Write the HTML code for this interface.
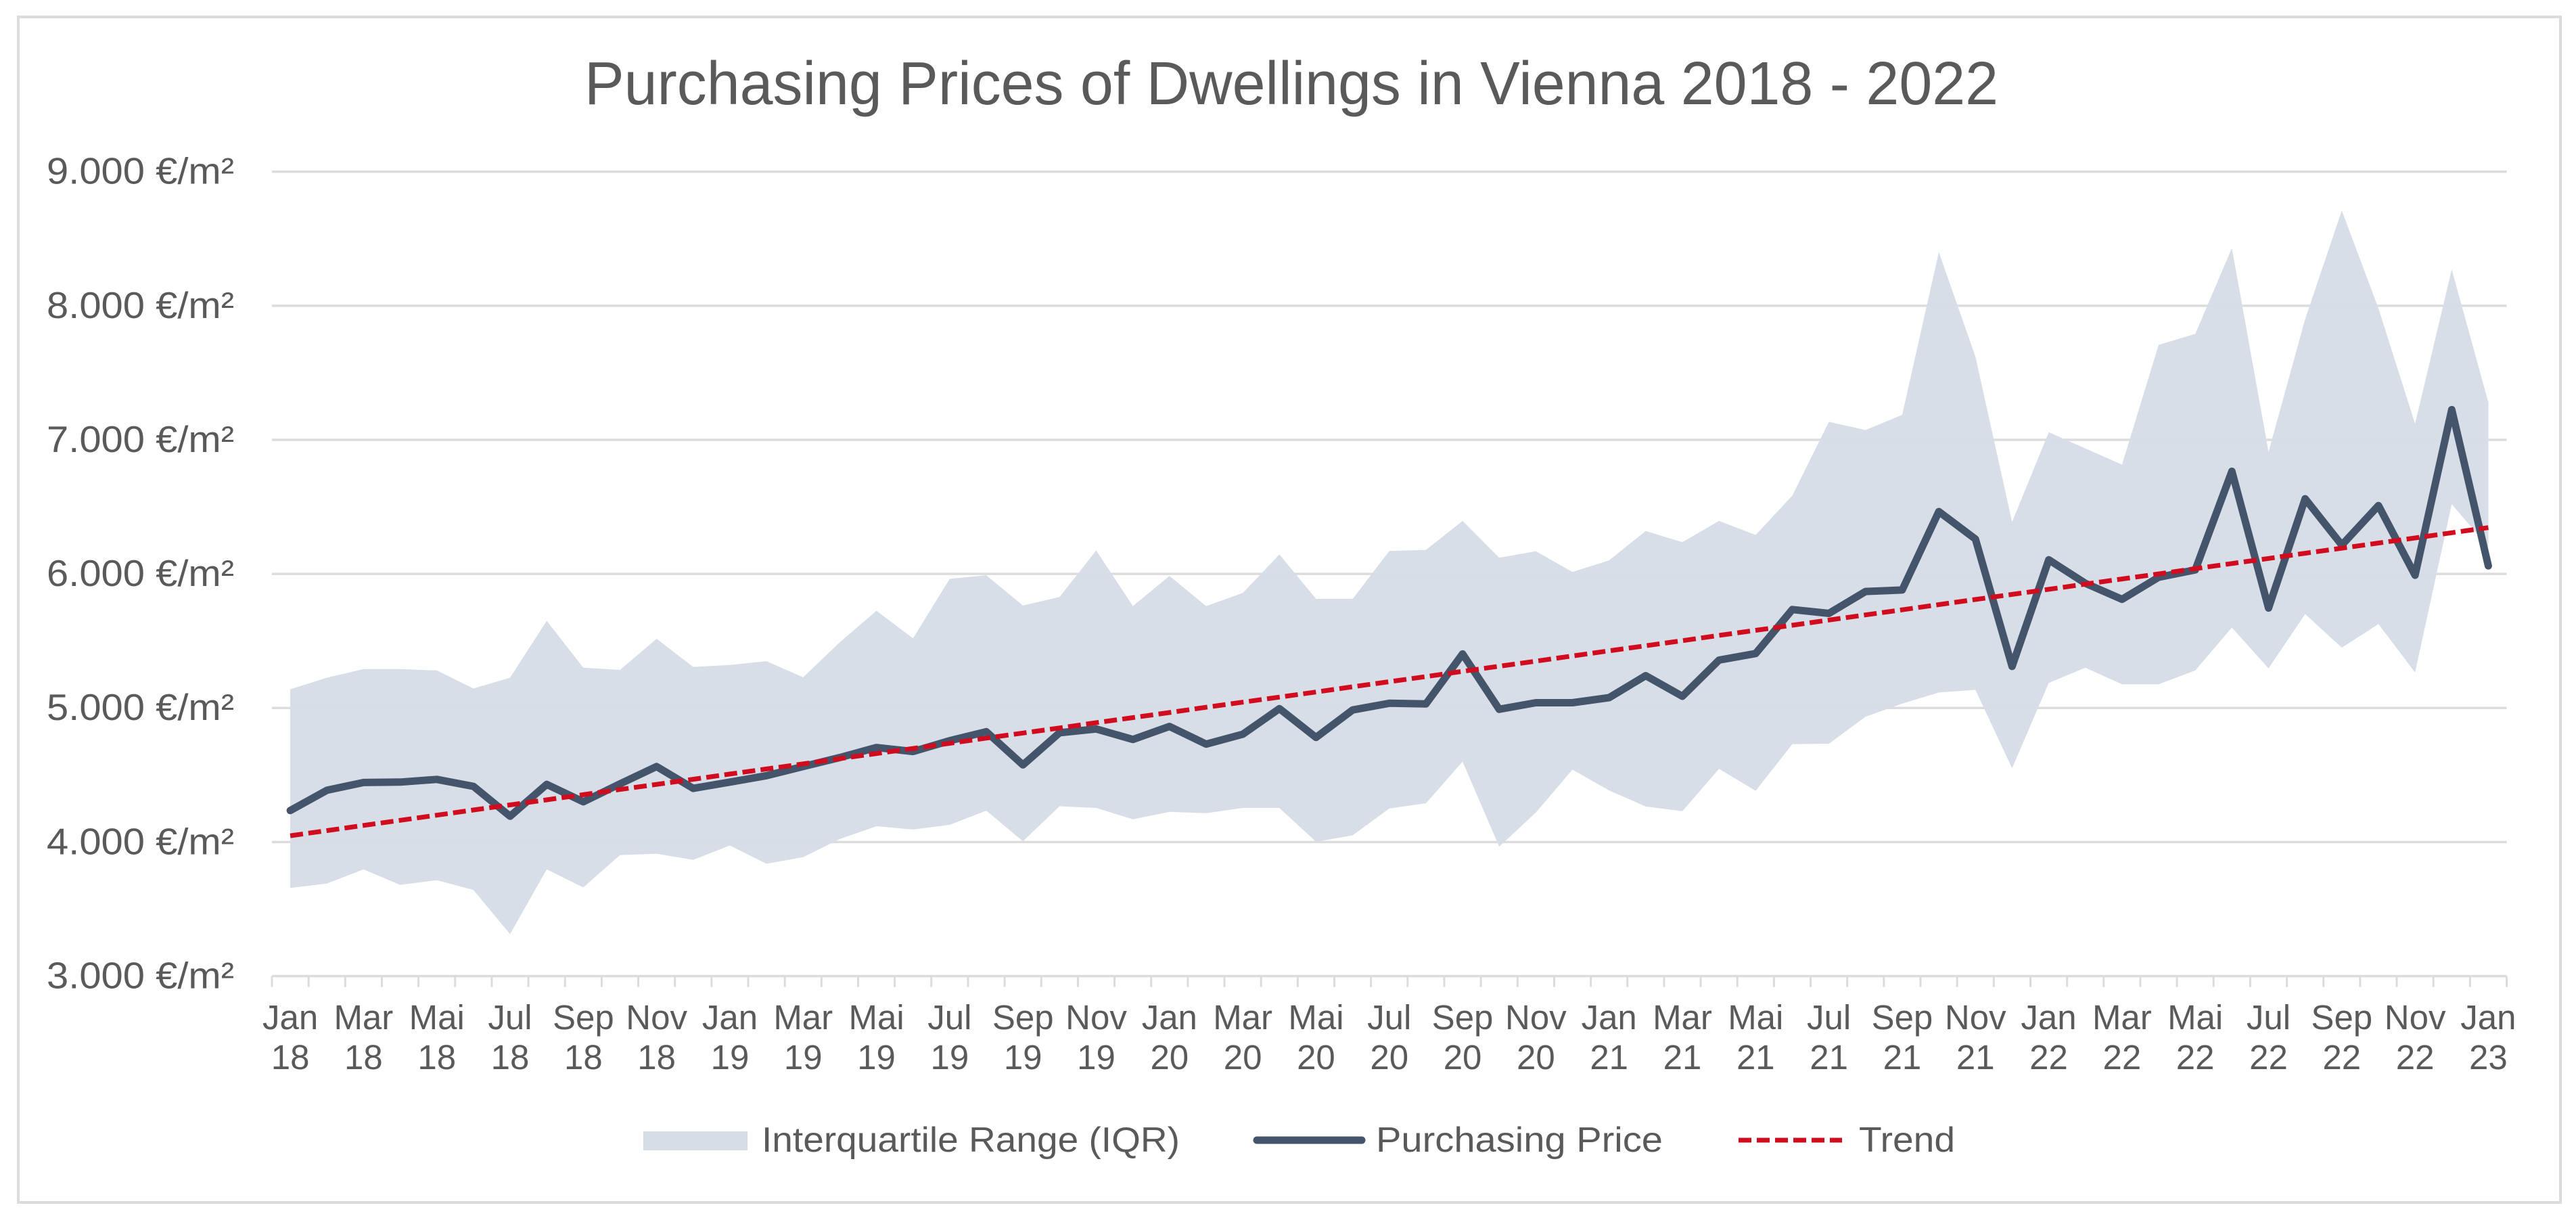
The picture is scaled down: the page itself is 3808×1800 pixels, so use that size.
<!DOCTYPE html>
<html lang="en">
<head>
<meta charset="utf-8">
<title>Purchasing Prices of Dwellings in Vienna 2018 - 2022</title>
<style>
  html, body { margin: 0; padding: 0; background: #fff; }
  svg { display: block; }
  text { font-family: "Liberation Sans", sans-serif; fill: #5a5a5a; }
</style>
</head>
<body>
<svg id="chart" xmlns="http://www.w3.org/2000/svg" width="3808" height="1800" viewBox="0 0 3808 1800">
  <rect x="27" y="25" width="3758" height="1752" fill="#ffffff" stroke="#dcdcdc" stroke-width="4"/>
  <text x="864" y="154" font-size="90" textLength="2090" lengthAdjust="spacingAndGlyphs">Purchasing Prices of Dwellings in Vienna 2018 - 2022</text>
  <g id="grid"></g>
  <g id="ylabels"></g>
  <path id="iqr" fill="#d6dde6" fill-opacity="0.96"/>
  <path id="price" fill="none" stroke="#44546a" stroke-width="11" stroke-linejoin="round" stroke-linecap="round"/>
  <path id="trend" fill="none" stroke="#d00c1e" stroke-width="7" stroke-dasharray="19 8"/>
  <g id="xaxis"></g>
  <g>
    <rect x="951" y="1672" width="154" height="28" fill="#d6dde6"/>
    <text x="1126" y="1702" font-size="52" textLength="618" lengthAdjust="spacingAndGlyphs">Interquartile Range (IQR)</text>
    <line x1="1858" y1="1685" x2="2013" y2="1685" stroke="#44546a" stroke-width="11" stroke-linecap="round"/>
    <text x="2034" y="1702" font-size="52" textLength="424" lengthAdjust="spacingAndGlyphs">Purchasing Price</text>
    <line x1="2570" y1="1685" x2="2723" y2="1685" stroke="#d00c1e" stroke-width="7" stroke-dasharray="19 8"/>
    <text x="2748" y="1702" font-size="52" textLength="142" lengthAdjust="spacingAndGlyphs">Trend</text>
  </g>
</svg>
<script>
const categories = [
  "Jan 18","Feb 18","Mar 18","Apr 18","Mai 18","Jun 18","Jul 18","Aug 18","Sep 18","Okt 18","Nov 18","Dez 18",
  "Jan 19","Feb 19","Mar 19","Apr 19","Mai 19","Jun 19","Jul 19","Aug 19","Sep 19","Okt 19","Nov 19","Dez 19",
  "Jan 20","Feb 20","Mar 20","Apr 20","Mai 20","Jun 20","Jul 20","Aug 20","Sep 20","Okt 20","Nov 20","Dez 20",
  "Jan 21","Feb 21","Mar 21","Apr 21","Mai 21","Jun 21","Jul 21","Aug 21","Sep 21","Okt 21","Nov 21","Dez 21",
  "Jan 22","Feb 22","Mar 22","Apr 22","Mai 22","Jun 22","Jul 22","Aug 22","Sep 22","Okt 22","Nov 22","Dez 22",
  "Jan 23"
];
const yTickValues = [3000, 4000, 5000, 6000, 7000, 8000, 9000];
const yTickLabels = ["3.000 €/m²","4.000 €/m²","5.000 €/m²","6.000 €/m²","7.000 €/m²","8.000 €/m²","9.000 €/m²"];
const iqrUpper = [
  5139,5226,5290,5290,5280,5145,5226,5650,5300,5284,
  5516,5306,5320,5349,5229,5490,5725,5519,5963,5990,
  5764,5828,6175,5760,5985,5760,5857,6145,5814,5814,
  6171,6179,6395,6120,6169,6014,6101,6320,6236,6395,
  6290,6584,7134,7073,7186,8400,7620,6387,7057,6935,
  6815,7708,7790,8430,6910,7900,8710,7980,7120,8270,7280
];
const iqrLower = [
  3657,3690,3796,3680,3715,3642,3313,3796,3661,3903,
  3912,3867,3974,3838,3887,4022,4118,4093,4128,4234,
  4006,4267,4254,4170,4225,4215,4254,4254,4002,4050,
  4250,4289,4600,3965,4220,4540,4385,4265,4230,4546,
  4382,4730,4733,4935,5032,5115,5135,4550,5187,5300,
  5177,5177,5280,5600,5295,5700,5450,5625,5265,6520,6200
];
const purchasingPrice = [
  4235,4386,4444,4447,4467,4415,4192,4430,4300,4434,
  4563,4400,4447,4495,4563,4630,4705,4675,4756,4823,
  4575,4815,4843,4765,4862,4730,4804,4995,4780,4985,
  5035,5030,5403,4990,5039,5039,5077,5241,5087,5357,
  5406,5734,5705,5869,5880,6465,6260,5310,6105,5930,
  5810,5975,6030,6765,5745,6560,6215,6510,5990,7225,6060
];
const trend = [
  4047,4085,4124,4162,4200,4239,4277,4315,4353,4392,
  4430,4468,4507,4545,4583,4622,4660,4698,4736,4775,
  4813,4851,4890,4928,4966,5005,5043,5081,5119,5158,
  5196,5234,5273,5311,5349,5388,5426,5464,5502,5541,
  5579,5617,5656,5694,5732,5771,5809,5847,5885,5924,
  5962,6000,6039,6077,6115,6154,6192,6230,6268,6307,6345
];

const NS = "http://www.w3.org/2000/svg";
const plotLeft = 402, plotRight = 3705.5, plotBottom = 1442.5, plotTop = 253.7;
const yMin = yTickValues[0], yMax = yTickValues[yTickValues.length - 1];
const step = (plotRight - plotLeft) / categories.length;
function xBand(i) { return plotLeft + step * i; }
function xScale(i) { return plotLeft + step * (i + 0.5); }
function yScale(v) { return plotBottom - (v - yMin) / (yMax - yMin) * (plotBottom - plotTop); }
function make(tag, attrs) {
  const el = document.createElementNS(NS, tag);
  for (const k in attrs) el.setAttribute(k, attrs[k]);
  return el;
}
function linePath(values) {
  return values.map((v, i) => (i ? "L" : "M") + xScale(i).toFixed(1) + " " + yScale(v).toFixed(1)).join(" ");
}

const grid = document.getElementById("grid");
const ylabels = document.getElementById("ylabels");
yTickValues.forEach((v, i) => {
  const y = yScale(v);
  const gl = make("line", { x1: plotLeft, x2: plotRight, y1: y, y2: y, stroke: "#dcdcdc", "stroke-width": 3.5 });
  
  
  grid.appendChild(gl);
  const t = make("text", { x: 69, y: y + 18, "font-size": 55, textLength: 277, lengthAdjust: "spacingAndGlyphs" });
  
  
  t.textContent = yTickLabels[i];
  ylabels.appendChild(t);
});

const upperPts = iqrUpper.map((v, i) => xScale(i).toFixed(1) + " " + yScale(v).toFixed(1));
const lowerPts = iqrLower.map((v, i) => xScale(i).toFixed(1) + " " + yScale(v).toFixed(1)).reverse();
document.getElementById("iqr").setAttribute("d", "M" + upperPts.concat(lowerPts).join(" L") + " Z");
document.getElementById("price").setAttribute("d", linePath(purchasingPrice));
document.getElementById("trend").setAttribute("d", linePath(trend));

const xaxis = document.getElementById("xaxis");
for (let i = 0; i <= categories.length; i++) {
  const x = xBand(i);
  const tk = make("line", { x1: x, x2: x, y1: plotBottom, y2: plotBottom + 16, stroke: "#dcdcdc", "stroke-width": 3 });
  
  
  xaxis.appendChild(tk);
}
categories.forEach((c, i) => {
  if (i % 2) return;
  const parts = c.split(" ");
  const t1 = make("text", { x: xScale(i), y: 1521, "font-size": 51, "text-anchor": "middle" });
  
  
  t1.textContent = parts[0];
  xaxis.appendChild(t1);
  const t2 = make("text", { x: xScale(i), y: 1580, "font-size": 51, "text-anchor": "middle" });
  
  
  t2.textContent = parts[1];
  xaxis.appendChild(t2);
});
</script>
</body>
</html>
